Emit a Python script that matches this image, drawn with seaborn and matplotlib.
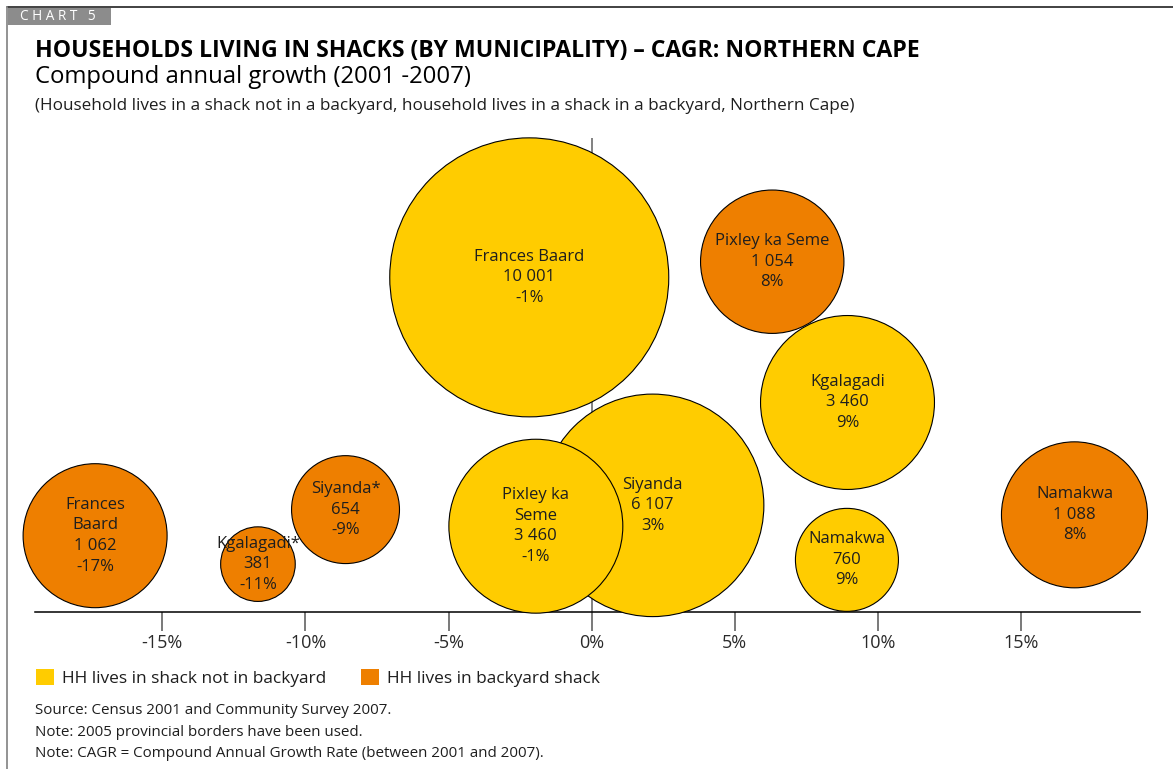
import matplotlib
matplotlib.use("Agg")
import matplotlib.pyplot as plt
from matplotlib.patches import Patch, Rectangle
from matplotlib.lines import Line2D
import numpy as np
import pandas as pd
import seaborn as sns

# ---------------------------------------------------------------- data
# Households living in a shack NOT in a backyard
districts_open = ["Frances Baard", "Siyanda", "Pixley ka\nSeme", "Kgalagadi", "Namakwa"]
households_open = [10001, 6107, 3460, 3460, 760]
cagr_open = [-1, 3, -1, 9, 9]

# Households living in a backyard shack
districts_backyard = ["Frances\nBaard", "Kgalagadi*", "Siyanda*", "Pixley ka Seme", "Namakwa"]
households_backyard = [1062, 381, 654, 1054, 1088]
cagr_backyard = [-17, -11, -9, 8, 8]

series_names = ["HH lives in shack not in backyard", "HH lives in backyard shack"]
tick_values = [-15, -10, -5, 0, 5, 10, 15]

title = "HOUSEHOLDS LIVING IN SHACKS (BY MUNICIPALITY) \u2013 CAGR: NORTHERN CAPE"
subtitle = "Compound annual growth (2001 -2007)"
description = ("(Household lives in a shack not in a backyard, household lives in a shack "
               "in a backyard, Northern Cape)")
notes = ["Source: Census 2001 and Community Survey 2007.",
         "Note: 2005 provincial borders have been used.",
         "Note: CAGR = Compound Annual Growth Rate (between 2001 and 2007)."]

# ---------------------------------------------------------------- layout
# Bubbles have no vertical scale: they sit at a free height (0-100) and are
# nudged sideways (percentage points) so that they do not cover one another.
level_open = [70.6, 22.5, 18.1, 44.2, 11.0]
shift_open = [-1.18, -0.87, -0.95, -0.06, -0.08]
level_backyard = [16.1, 10.1, 21.6, 73.9, 20.5]
shift_backyard = [-0.35, -0.66, 0.40, -1.69, 8.87]

YELLOW = "#FFCC00"
ORANGE = "#EE7F00"
INK = "#1e1e1e"

W, H = 1173, 769

sns.set_style("white")
plt.rcParams["font.family"] = ["Open Sans", "DejaVu Sans"]

fig = plt.figure(figsize=(W / 100, H / 100), dpi=100)
renderer = fig.canvas.get_renderer()

# plot area: axis line at y=612 px, top at y=138 px, x from 35 to 1140 px
ax = fig.add_axes([35 / W, (H - 612) / H, (1140 - 35) / W, (612 - 138) / H])
ax.set_xlim(-19.45, 19.16)
ax.set_ylim(0, 100)


def bubble_frame(names, hh, cagr, level, shift):
    return pd.DataFrame({
        "district": names,
        "households": hh,
        "cagr": cagr,
        "x": np.asarray(cagr, float) + np.asarray(shift, float),
        "level": level,
    })


df_open = bubble_frame(districts_open, households_open, cagr_open, level_open, shift_open)
df_back = bubble_frame(districts_backyard, households_backyard, cagr_backyard,
                       level_backyard, shift_backyard)

# zero reference line behind the bubbles
ax.axvline(0, color="#777777", lw=1.3, zorder=1)

sns.scatterplot(data=df_open, x="x", y="level", size="households",
                sizes=(5500, 40354), size_norm=(760, 10001),
                color=YELLOW, edgecolor="black", linewidth=0.8,
                legend=False, ax=ax, clip_on=False, zorder=3)
sns.scatterplot(data=df_back, x="x", y="level", size="households",
                sizes=(2885, 11050), size_norm=(381, 1088),
                color=ORANGE, edgecolor="black", linewidth=0.8,
                legend=False, ax=ax, clip_on=False, zorder=3)


def fmt_thousands(v):
    return f"{int(v):,}".replace(",", " ")


for df in (df_open, df_back):
    for _, r in df.iterrows():
        ax.text(r["x"], r["level"],
                f"{r['district']}\n{fmt_thousands(r['households'])}\n{r['cagr']}%",
                ha="center", va="center", fontsize=12, linespacing=1.38,
                color=INK, zorder=5)

# axis styling
for side in ("left", "right", "top"):
    ax.spines[side].set_visible(False)
ax.spines["bottom"].set_color("black")
ax.spines["bottom"].set_linewidth(1.1)
ax.set_yticks([])
ax.set_xticks(tick_values)
ax.set_xticklabels([f"{t}%" for t in tick_values])
ax.tick_params(axis="x", direction="out", length=13.7, width=1.1, color="#555555",
               labelsize=13, pad=2, labelcolor="#2a2a2a", bottom=True)
ax.set_xlabel("")
ax.set_ylabel("")


def fit_text(x_px, y_px, s, width_px, size=12, **kw):
    t = fig.text(x_px / W, 1 - y_px / H, s, fontsize=size, ha="left",
                 va="baseline", **kw)
    w = t.get_window_extent(renderer).width
    t.set_fontsize(size * width_px / w)
    return t


# headings
fit_text(35, 57, title, 886, size=14, fontweight="bold", color="black")
fit_text(35, 83, subtitle, 439, size=14, color="black")
fit_text(35, 110, description, 816, size=11, color=INK)

# notes
t_note = fit_text(35, 757, notes[2], 511, size=10.5, color=INK)
note_size = t_note.get_fontsize()
for s, yb in zip(notes[:2], (714, 736)):
    fig.text(35 / W, 1 - yb / H, s, fontsize=note_size, ha="left", va="baseline",
             color=INK)

# legend
handles = [Patch(facecolor=YELLOW, edgecolor="none"),
           Patch(facecolor=ORANGE, edgecolor="none")]
fig.legend(handles, series_names, loc="upper left", bbox_to_anchor=(36 / W, 1 - 669 / H),
           ncol=2, frameon=False, fontsize=12.4, handlelength=1.06, handleheight=1.06,
           handletextpad=0.45, columnspacing=2.0, borderpad=0, borderaxespad=0,
           labelcolor=INK)

# page frame and chart tag
fig.add_artist(Line2D([7 / W, 1], [1 - 6.5 / H, 1 - 6.5 / H], transform=fig.transFigure,
                      color="#333333", lw=1.3))
fig.add_artist(Line2D([7 / W, 7 / W], [0, 1 - 6.5 / H], transform=fig.transFigure,
                      color="#8a8a8a", lw=1.3))
fig.add_artist(Rectangle((7.5 / W, 1 - 25 / H), (111 - 7.5) / W, 17 / H,
                         transform=fig.transFigure, facecolor="#8c8c8c",
                         edgecolor="none"))
fit_text(20.5, 20, "C H A R T   5", 76, size=7, color="white")

fig.savefig("out.png", dpi=100)
